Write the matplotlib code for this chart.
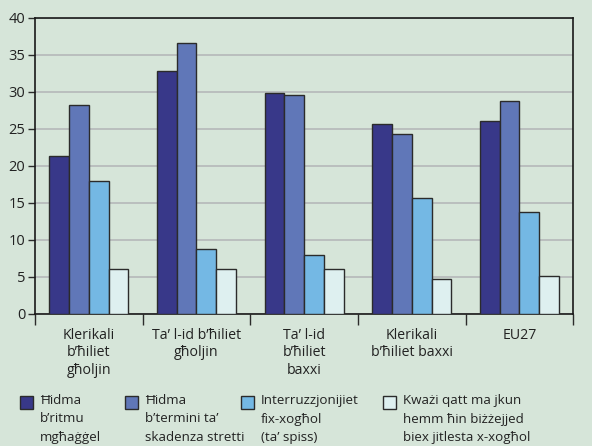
import matplotlib
matplotlib.use("Agg")
import matplotlib.pyplot as plt
import numpy as np
from matplotlib.patches import Rectangle

categories = ["Klerikali\nb’ħiliet\ngħoljin", "Ta’ l-id b’ħiliet\ngħoljin",
              "Ta’ l-id\nb’ħiliet\nbaxxi", "Klerikali\nb’ħiliet baxxi", "EU27"]
series_names = ["Ħidma\nb’ritmu\nmgħaġġel",
                "Ħidma\nb’termini ta’\nskadenza stretti",
                "Interruzzjonijiet\nfix-xogħol\n(ta’ spiss)",
                "Kważi qatt ma jkun\nhemm ħin biżżejjed\nbiex jitlesta x-xogħol"]
values = [
    [21.3, 32.8, 29.8, 25.6, 26.1],
    [28.2, 36.6, 29.6, 24.3, 28.7],
    [18.0, 8.7, 8.0, 15.6, 13.7],
    [6.0, 6.1, 6.1, 4.7, 5.1],
]
yticks = [0, 5, 10, 15, 20, 25, 30, 35, 40]

colors = ["#383889", "#6077b8", "#74b8e4", "#def0f0"]
bg = "#d6e5d9"
edge = "#2b2b2b"

plt.rcParams['font.family'] = ['Open Sans', 'DejaVu Sans']

fig = plt.figure(figsize=(5.92, 4.46), dpi=100, facecolor=bg)
ax = fig.add_axes([0.0591, 0.2966, 0.9093, 0.6637], facecolor=bg)

x = np.arange(len(categories))
w = 0.183
for i, vals in enumerate(values):
    ax.bar(x + (i - 1.5) * w, vals, w, color=colors[i], edgecolor=edge,
           linewidth=1.0, zorder=3)

ax.set_ylim(0, 40)
ax.set_xlim(-0.5, len(categories) - 0.5)
ax.set_yticks(yticks)
ax.yaxis.grid(True, color="#b8bcbc", linewidth=1.3, zorder=0)
ax.set_axisbelow(True)
ax.tick_params(axis='y', length=5, width=1, color=edge, labelsize=10.5,
               labelcolor="#222222", pad=2)
ax.set_xticks(x)
ax.set_xticklabels(categories, fontsize=10.2, color="#222222", linespacing=1.25)
ax.tick_params(axis='x', which='major', length=0, pad=10)
ax.set_xticks(np.arange(-0.5, len(categories)), minor=True)
ax.tick_params(axis='x', which='minor', length=8, width=1, color=edge)
for s in ax.spines.values():
    s.set_color("#1a1a1a")
    s.set_linewidth(1.2)

# legend
leg_x = [20, 125, 241, 383]
W, H = 592, 446
for i, name in enumerate(series_names):
    x0 = leg_x[i]
    fig.add_artist(Rectangle((x0 / W, 1 - 409 / H), 13 / W, 13 / H,
                             transform=fig.transFigure, facecolor=colors[i],
                             edgecolor=edge, linewidth=1.0))
    fig.text((x0 + 20) / W, 1 - 394 / H, name, fontsize=9.6, color="#222222",
             va='top', ha='left', linespacing=1.55)

fig.savefig("out.png", dpi=100, facecolor=bg)
